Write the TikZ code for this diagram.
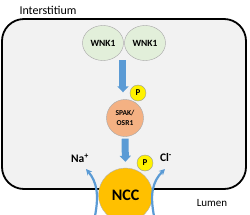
\documentclass[tikz,border=0pt]{standalone}
\usepackage{fontspec}
\setsansfont{Carlito}
\usetikzlibrary{arrows.meta,calc,shapes.geometric}
\tikzset{every picture/.style={/utils/exec={\sffamily}}}
\definecolor{cellgray}{HTML}{F2F2F2}
\definecolor{wnkgreen}{HTML}{E2EFDA}
\definecolor{spakorange}{HTML}{F4B183}
\definecolor{nccgold}{HTML}{FFC000}
\definecolor{sigblue}{HTML}{5B9BD5}
\tikzset{
    wnk/.style={ellipse,draw=black!35,fill=wnkgreen,minimum width=41pt,minimum height=35pt,inner sep=0pt,font=\fontsize{9.5}{11}\selectfont\bfseries},
    phos/.style={circle,draw=black!40,fill=yellow,minimum size=16pt,inner sep=0pt,font=\fontsize{9}{10}\selectfont\bfseries},
    sig/.style={sigblue,line width=7pt,-{Triangle[width=11pt,length=6pt]}},
    ion/.style={sigblue,line width=2.2pt,-{Stealth[length=6pt,width=6pt]}},
}

\begin{document}
\begin{tikzpicture}[x=1pt,y=-1pt]
    \clip (0,0) rectangle (250,215);
    \draw [line width=1.8pt,fill=cellgray,rounded corners=22pt] (2,19) rectangle (246,189);
    \node (intst) [anchor=west,font=\fontsize{12}{14}\selectfont] at (16,10) {Interstitium};
    \node (lumen) [font=\fontsize{11}{13}\selectfont] at (212,203) {Lumen};
    \node [wnk] (wnka) at (103,43) {WNK1};
    \node [wnk] (wnkb) at (145,43) {WNK1};
    \node [circle,draw=black!35,fill=spakorange,minimum size=37pt,inner sep=0pt,align=center,font=\fontsize{7.5}{10}\selectfont\bfseries] (spak) at (125,118) {SPAK/\\OSR1};
    \node [ellipse,draw=black!30,fill=nccgold,minimum width=54pt,minimum height=54pt,inner sep=0pt,font=\fontsize{16}{18}\selectfont\bfseries] (ncc) at (125.5,195) {NCC};
    \node [phos] (pspak) at (138,93) {P};
    \node [phos] (pncc) at (145,163) {P};
    \node (na) [font=\fontsize{11.5}{13}\selectfont\bfseries] at (80,158) {Na\textsuperscript{+}};
    \node (cl) [font=\fontsize{11.5}{13}\selectfont\bfseries] at (166,158) {Cl\textsuperscript{-}};
    \coordinate (wnkmid) at (123,60);
    \draw [sig,shorten >=7pt] (wnkmid) -- (wnkmid |- spak.north);
    \draw [sig,shorten <=2pt,shorten >=6pt] (spak.south) -- (ncc.north);
    \coordinate (nain) at (95,216);
    \coordinate (naout) at (86,169);
    \coordinate (clin) at (154,216);
    \coordinate (clout) at (165,169);
    \draw [ion] (nain) .. controls (99,195) and (97,182) .. (naout);
    \draw [ion] (clin) .. controls (150,195) and (152,182) .. (clout);
\end{tikzpicture}
\end{document}
